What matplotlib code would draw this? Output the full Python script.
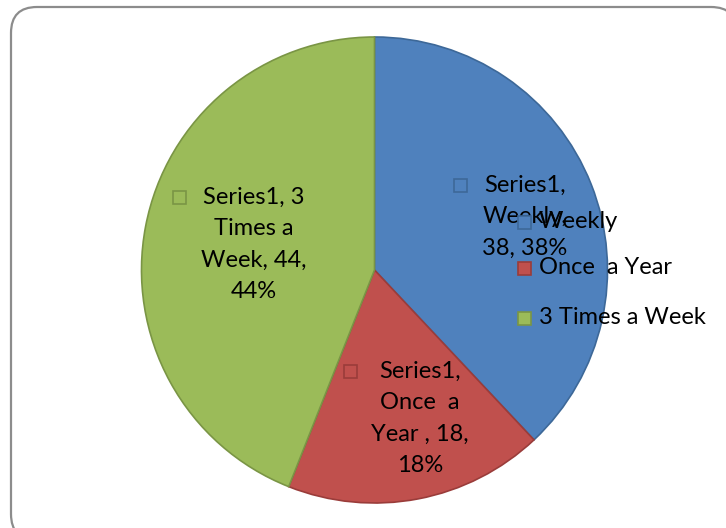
import matplotlib
matplotlib.use("Agg")
import matplotlib.pyplot as plt
from matplotlib.patches import FancyBboxPatch, Rectangle

categories = ["Weekly", "Once  a Year ", "3 Times a Week"]
values = [38, 18, 44]
series_name = "Series1"
legend_labels = ["Weekly", "Once  a Year", "3 Times a Week"]
data_labels = ["Series1,\nWeekly,\n38, 38%",
               "Series1,\nOnce  a\nYear , 18,\n18%",
               "Series1, 3\nTimes a\nWeek, 44,\n44%"]

colors = ["#4F81BD", "#C0504D", "#9BBB59"]
edges = ["#3D6898", "#9A3C3A", "#7A9545"]

W, H = 726, 528
plt.rcParams['font.family'] = ['Lato', 'DejaVu Sans']
fig = plt.figure(figsize=(W / 100, H / 100), dpi=100)
ax = fig.add_axes([0, 0, 1, 1])

# outer rounded frame
frame = FancyBboxPatch((11, -12), 726, 533, boxstyle="round,pad=0,rounding_size=26",
                       facecolor="white", edgecolor="#8C8C8C", linewidth=1.6, zorder=0)
ax.add_patch(frame)

cx, cy, R = 374.5, H - 270, 233
wedges, _ = ax.pie(values, colors=colors, startangle=90, counterclock=False,
                   center=(cx, cy), radius=R,
                   wedgeprops=dict(linewidth=1.2))
for w, e in zip(wedges, edges):
    w.set_edgecolor(e)
    w.set_zorder(1)

fs = 17
# data labels (text positions in pixel coords, first line y)
label_pos = [(525, 185), (420, 371), (254, 197)]
marker_x = [460, 350, 179]
for (tx, ty), mx, txt, c, e in zip(label_pos, marker_x, data_labels, colors, edges):
    lines = txt.split("\n")
    for i, ln in enumerate(lines):
        ax.text(tx, H - (ty + i * 31.5), ln, ha="center", va="center",
                fontsize=fs, color="black", zorder=3)
    ax.add_patch(Rectangle((mx - 6.5, H - ty - 6.5), 13, 13, facecolor=c,
                           edgecolor=e, linewidth=1.2, zorder=3))

# legend
leg_y = [222, 268, 318]
for ly, lab, c, e in zip(leg_y, legend_labels, colors, edges):
    ax.add_patch(Rectangle((517.5, H - ly - 6.5), 13, 13, facecolor=c,
                           edgecolor=e, linewidth=1.2, zorder=4))
    ax.text(539, H - ly, lab, ha="left", va="center", fontsize=fs,
            color="black", zorder=4)

ax.set_xlim(0, W)
ax.set_ylim(0, H)
ax.set_aspect("auto")
ax.axis("off")
fig.savefig("out.png", dpi=100)
